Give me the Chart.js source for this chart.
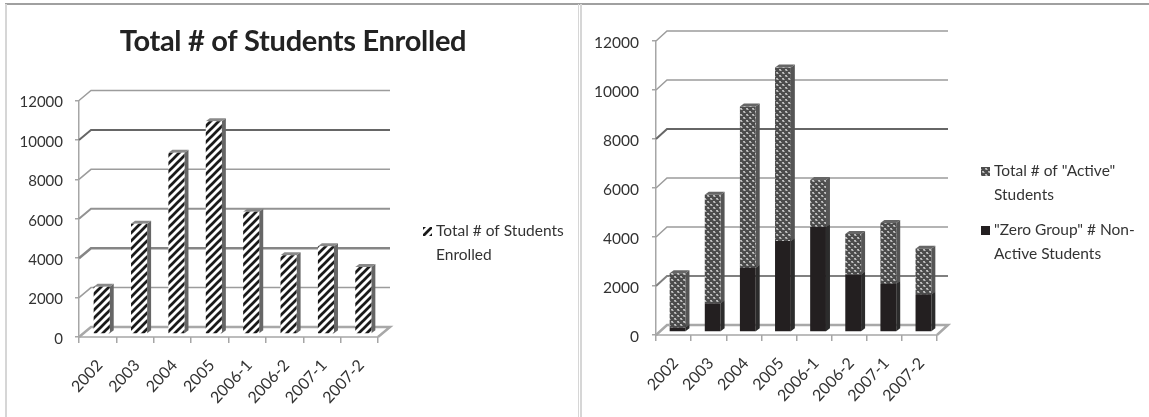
<!DOCTYPE html>
<html><head><meta charset="utf-8">
<script src="https://cdn.jsdelivr.net/npm/chart.js@4"></script>
<style>
html,body{margin:0;padding:0;background:#fff;width:1149px;height:417px;overflow:hidden}
canvas{position:absolute;top:0;filter:blur(0.45px)}
.rule{position:absolute;top:4px;height:413px;background:#d6d6d6}
.top{position:absolute;left:5px;right:0;top:3px;height:2px;background:#a0a0a0}
</style></head><body>
<div class="top"></div>
<div class="rule" style="left:5px;width:2px"></div>
<div class="rule" style="left:578px;width:1px"></div>
<div class="rule" style="left:580px;width:2px"></div>
<canvas id="a" width="580" height="417" style="left:3px"></canvas>
<canvas id="b" width="566" height="417" style="left:583px"></canvas>
<script>
const categories = ["2002","2003","2004","2005","2006-1","2006-2","2007-1","2007-2"];
const enrolled = [2400,5600,9200,10800,6200,4000,4450,3400];
const zeroGroup = [180,1170,2620,3710,4290,2350,1970,1535];
const active = [2220,4430,6580,7090,1910,1650,2480,1865];
const yTicks = [0,2000,4000,6000,8000,10000,12000];
const titleText = "Total # of Students Enrolled";
const FONT = "Lato";

function stripes(){
  const c=document.createElement('canvas');c.width=c.height=8;
  const x=c.getContext('2d');x.fillStyle='#fff';x.fillRect(0,0,8,8);
  x.strokeStyle='#1a1a1a';x.lineWidth=2.7;
  [[-2,2,2,-2],[0,8,8,0],[6,10,10,6]].forEach(s=>{x.beginPath();x.moveTo(s[0],s[1]);x.lineTo(s[2],s[3]);x.stroke();});
  return x.createPattern(c,'repeat');
}
function dither(){
  const c=document.createElement('canvas');c.width=c.height=6;
  const x=c.getContext('2d');x.fillStyle='#4c4c4c';x.fillRect(0,0,6,6);
  x.fillStyle='#bdbdbd';[[0,0],[1,0],[1,1],[3,3],[4,3],[4,4]].forEach(p=>x.fillRect(p[0],p[1],1,1));
  x.fillStyle='#8a8a8a';[[2,1],[5,4],[0,1],[3,4]].forEach(p=>x.fillRect(p[0],p[1],1,1));
  return x.createPattern(c,'repeat');
}
const wall = {
  id:'wall',
  beforeDatasetsDraw(ch,args,o){
    const {ctx,scales:{x,y}}=ch;
    ctx.save();
    const L=x.left,R=x.right;
    y.ticks.forEach(t=>{
      const py=y.getPixelForValue(t.value);
      const st=o.lines[t.value]||['#9c9c9c',1.5];
      ctx.strokeStyle=st[0];ctx.lineWidth=st[1];
      ctx.beginPath();ctx.moveTo(L,py);ctx.lineTo(L+o.dx,py-o.dy);ctx.lineTo(R+o.dx,py-o.dy);
      if(t.value===0) ctx.lineTo(R,py);
      ctx.stroke();
    });
    ctx.strokeStyle='#a6a6a6';ctx.lineWidth=1.5;
    ctx.beginPath();ctx.moveTo(L,y.bottom);ctx.lineTo(R,y.bottom);ctx.stroke();
    ctx.restore();
    ctx.save();ctx.translate(o.fx,-o.fy);
    const n=ch.data.datasets.length;
    for(let d=0;d<n;d++){
      ch.getDatasetMeta(d).data.forEach(b=>{
        const half=b.width/2, r=b.x+half, l=b.x-half;
        const ds=o.fx2, up=o.fy2;
        ctx.fillStyle=o.side[d];
        ctx.beginPath();ctx.moveTo(r,b.y);ctx.lineTo(r+ds,b.y-up);ctx.lineTo(r+ds,b.base-up);ctx.lineTo(r,b.base);ctx.closePath();ctx.fill();
        ctx.fillStyle=o.cap[d];
        ctx.beginPath();ctx.moveTo(l,b.y);ctx.lineTo(l+ds,b.y-up);ctx.lineTo(r+ds,b.y-up);ctx.lineTo(r,b.y);ctx.closePath();ctx.fill();
      });
    }
  },
  afterDatasetsDraw(ch){ch.ctx.restore();},
  afterDraw(ch,args,o){
    const {ctx}=ch;ctx.save();
    if(o.title){
      ctx.font='bold 29px '+FONT;ctx.fillStyle='#222';ctx.textAlign='center';ctx.textBaseline='alphabetic';
      ctx.letterSpacing='-0.3px';
      ctx.fillText(o.title,290,51);
      ctx.letterSpacing='0px';
    }
    ctx.textAlign='left';
    ctx.font='15.5px '+FONT;ctx.textBaseline='middle';
    o.legend.forEach(it=>{
      ctx.fillStyle=it.fill;ctx.fillRect(it.x,it.y-4,9,9);
      ctx.fillStyle='#333';
      it.lines.forEach((s,i)=>ctx.fillText(s,it.x+13,it.y+i*o.lh));
    });
    ctx.restore();
  }
};
function make(id,datasets,cfg){
  return new Chart(document.getElementById(id),{
    type:'bar',
    data:{labels:categories,datasets},
    plugins:[wall],
    options:{
      responsive:false,animation:false,
      barPercentage:cfg.bar,categoryPercentage:1,
      layout:{padding:{left:0,right:cfg.right,top:cfg.top,bottom:0}},
      plugins:{
        legend:{display:false},tooltip:{enabled:false},title:{display:false},
        wall:cfg.wall
      },
      scales:{
        x:{stacked:true,
          grid:{display:true,offset:true,drawOnChartArea:false,drawTicks:true,tickLength:6,color:'#a6a6a6',lineWidth:1.5},
          border:{display:false},
          ticks:{color:'#333',font:{family:FONT,size:16},maxRotation:47,minRotation:47,padding:cfg.xpad,labelOffset:2},
          afterFit(s){s.height=cfg.xh;}
        },
        y:{stacked:true,min:0,max:12000,
          afterBuildTicks(s){s.ticks=yTicks.map(v=>({value:v}));},
          grid:{display:true,drawOnChartArea:false,drawTicks:true,tickLength:4,color:'#a6a6a6',lineWidth:1.5},
          border:{display:true,color:'#a6a6a6',width:1.5},
          ticks:{color:'#333',font:{family:FONT,size:cfg.yfs},padding:cfg.ypad,labelOffset:2,callback:v=>String(v)},
          afterFit(s){s.width=cfg.yw;}
        }
      }
    }
  });
}
make('a',[{label:titleText,data:enrolled,backgroundColor:stripes()}],{
  bar:.43,right:205,top:100.5,xh:80,yw:76,yfs:15,ypad:12,xpad:13,
  wall:{title:titleText,dx:12,dy:10,fx:4,fy:3,fx2:4,fy2:3,side:['#666'],cap:['#8a8a8a'],lh:24,
    lines:{0:['#a8a8a8',2.5],4000:['#858585',2.5],6000:['#929292',2],10000:['#666',2]},
    legend:[{x:420,y:231,fill:stripes(),lines:["Total # of Students","Enrolled"]}]}
});
make('b',[
  {label:'"Zero Group" # Non-Active Students',data:zeroGroup,backgroundColor:'#231f20'},
  {label:'Total # of "Active" Students',data:active,backgroundColor:dither()}
],{
  bar:.45,right:212,top:41,xh:82,yw:73,yfs:15.5,ypad:13,xpad:13,
  wall:{dx:11,dy:10,fx:4,fy:3,fx2:4,fy2:3,side:['#2c2c2c','#555'],cap:['#2c2c2c','#666'],lh:24,
    lines:{0:['#a8a8a8',2.5],2000:['#808080',2],8000:['#666',2]},
    legend:[{x:398,y:171,fill:dither(),lines:['Total # of "Active"','Students']},{x:398,y:230,fill:'#231f20',lines:['"Zero Group" # Non-','Active Students']}]}
});
</script>
</body></html>
